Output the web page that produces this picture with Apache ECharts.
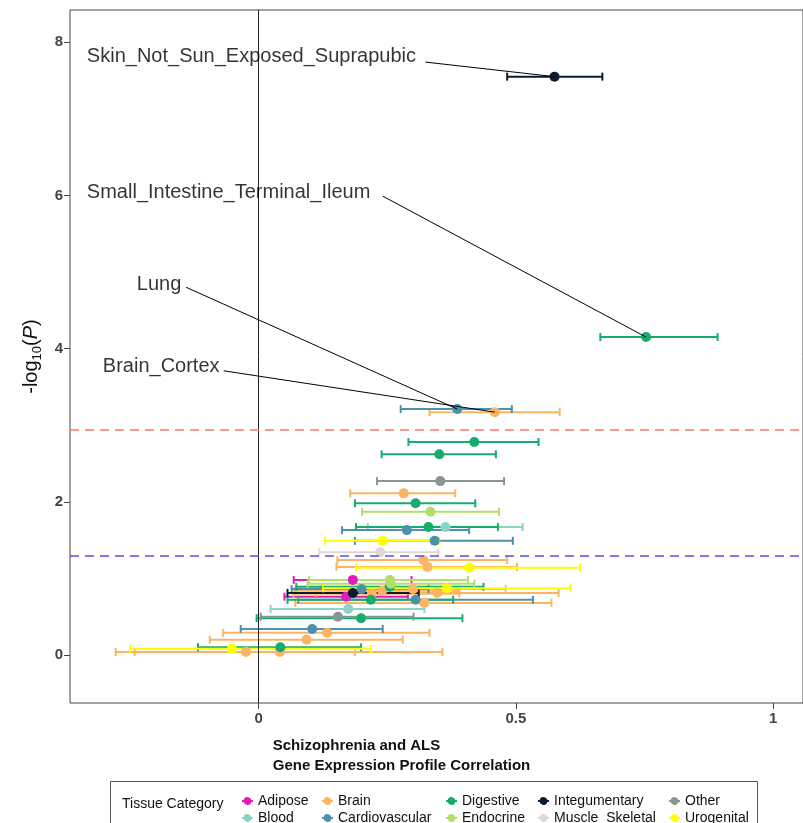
<!DOCTYPE html>
<html>
<head>
<meta charset="utf-8">
<script src="https://cdn.jsdelivr.net/npm/echarts@6/dist/echarts.min.js"></script>
<style>
  html, body { margin: 0; padding: 0; background: #fff; }
  #chart { width: 803px; height: 823px; }
</style>
</head>
<body>
<div id="chart"></div>
<script>
const categories = ['Adipose', 'Blood', 'Brain', 'Cardiovascular', 'Digestive', 'Endocrine', 'Integumentary', 'Muscle_Skeletal', 'Other', 'Urogenital'];
const categoryColors = ['#e01cbf', '#8dd3c7', '#fdb462', '#4d92aa', '#16ac6b', '#b3de69', '#0c1b2e', '#e2d5d6', '#879694', '#ffff00'];

// one entry per tissue
const tissueCategory = [
    'Integumentary', 'Digestive', 'Cardiovascular', 'Brain', 'Digestive', 'Digestive', 'Other', 'Brain',
    'Digestive', 'Endocrine', 'Digestive', 'Blood', 'Cardiovascular', 'Urogenital', 'Cardiovascular', 'Muscle_Skeletal',
    'Brain', 'Brain', 'Urogenital', 'Endocrine', 'Adipose', 'Endocrine', 'Digestive', 'Urogenital',
    'Cardiovascular', 'Brain', 'Brain', 'Integumentary', 'Brain', 'Brain', 'Adipose', 'Digestive',
    'Cardiovascular', 'Brain', 'Blood', 'Other', 'Digestive', 'Cardiovascular', 'Brain', 'Brain',
    'Digestive', 'Urogenital', 'Brain', 'Brain'
];
const correlation = [
    0.575, 0.753, 0.386, 0.459, 0.419, 0.351, 0.353, 0.282,
    0.305, 0.334, 0.330, 0.363, 0.288, 0.241, 0.342, 0.236,
    0.320, 0.328, 0.409, 0.255, 0.183, 0.257, 0.255, 0.366,
    0.200, 0.300, 0.240, 0.183, 0.347, 0.220, 0.170, 0.218,
    0.305, 0.322, 0.174, 0.154, 0.199, 0.104, 0.133, 0.093,
    0.042, -0.052, -0.025, 0.041
];
const negLogP = [
    7.55, 4.15, 3.21, 3.17, 2.78, 2.62, 2.27, 2.11,
    1.98, 1.87, 1.67, 1.67, 1.63, 1.49, 1.49, 1.34,
    1.24, 1.15, 1.14, 0.98, 0.98, 0.93, 0.89, 0.87,
    0.86, 0.86, 0.84, 0.81, 0.81, 0.80, 0.76, 0.72,
    0.72, 0.68, 0.60, 0.50, 0.48, 0.34, 0.29, 0.20,
    0.10, 0.08, 0.04, 0.04
];
const ciLow = [
    0.483, 0.664, 0.276, 0.332, 0.291, 0.239, 0.230, 0.178,
    0.187, 0.201, 0.189, 0.212, 0.162, 0.129, 0.187, 0.118,
    0.153, 0.151, 0.189, 0.098, 0.068, 0.095, 0.073, 0.125,
    0.064, 0.120, 0.070, 0.056, 0.112, 0.068, 0.050, 0.056,
    0.077, 0.071, 0.023, 0.004, -0.004, -0.035, -0.069, -0.095,
    -0.118, -0.250, -0.241, -0.278
];
const ciHigh = [
    0.668, 0.892, 0.492, 0.585, 0.544, 0.461, 0.477, 0.382,
    0.421, 0.467, 0.465, 0.513, 0.409, 0.351, 0.494, 0.349,
    0.483, 0.502, 0.625, 0.407, 0.297, 0.419, 0.437, 0.606,
    0.330, 0.480, 0.390, 0.311, 0.583, 0.390, 0.290, 0.378,
    0.533, 0.569, 0.322, 0.301, 0.396, 0.241, 0.332, 0.280,
    0.199, 0.218, 0.187, 0.357
];

// thresholds
const bonferroniLine = 2.94;
const nominalLine = 1.301;

// labelled tissues: text anchor (data coords), leader start, leader end (the point)
const labelNames = ['Skin_Not_Sun_Exposed_Suprapubic', 'Small_Intestine_Terminal_Ileum', 'Lung', 'Brain_Cortex'];
const labelAt = [[-0.334, 7.81], [-0.334, 6.04], [-0.237, 4.84], [-0.303, 3.76]];
const leaderFrom = [[0.324, 7.74], [0.241, 5.99], [-0.141, 4.80], [-0.068, 3.71]];
const leaderTo = [[0.575, 7.55], [0.753, 4.15], [0.386, 3.21], [0.459, 3.17]];

const xTicks = [0, 0.5, 1];
const yTicks = [0, 2, 4, 6, 8];

const chart = echarts.init(document.getElementById('chart'));
const FONT = 'Liberation Sans, Arial, sans-serif';
const legendIcon = 'path://M-5.5,-1H-3.87A4,4 0 0,1 3.87,-1H5.5V1H3.87A4,4 0 0,1 -3.87,1H-5.5Z';

let series = [];

categories.forEach((cat, ci) => {
    let bars = [];
    tissueCategory.forEach((c, i) => {
        if (c === cat) bars.push([ciLow[i], ciHigh[i], negLogP[i]]);
    });
    series.push({
        type: 'custom',
        name: cat + '_bars',
        z: 2,
        silent: true,
        encode: { x: [0, 1], y: 2 },
        data: bars,
        renderItem: (params, api) => {
            const y = api.value(2);
            const a = api.coord([api.value(0), y]);
            const b = api.coord([api.value(1), y]);
            const h = 4;
            const st = { stroke: categoryColors[ci], lineWidth: 2 };
            return {
                type: 'group',
                children: [
                    { type: 'line', shape: { x1: a[0], y1: a[1], x2: b[0], y2: b[1] }, style: st },
                    { type: 'line', shape: { x1: a[0], y1: a[1] - h, x2: a[0], y2: a[1] + h }, style: st },
                    { type: 'line', shape: { x1: b[0], y1: b[1] - h, x2: b[0], y2: b[1] + h }, style: st }
                ]
            };
        }
    });
});

categories.forEach((cat, ci) => {
    let pts = [];
    tissueCategory.forEach((c, i) => {
        if (c === cat) pts.push([correlation[i], negLogP[i]]);
    });
    series.push({
        type: 'scatter',
        name: cat,
        z: 3,
        symbol: 'circle',
        symbolSize: 10,
        itemStyle: { color: categoryColors[ci], opacity: 1 },
        data: pts
    });
});

// reference lines
series.push({
    type: 'line',
    name: 'refs',
    z: 1,
    data: [],
    silent: true,
    markLine: {
        silent: true,
        symbol: 'none',
        label: { show: false },
        animation: false,
        data: [
            { xAxis: 0, lineStyle: { color: '#222', type: 'solid', width: 1 } },
            { yAxis: bonferroniLine, lineStyle: { color: '#f8766d', type: [9, 6], width: 1.5 } },
            { yAxis: nominalLine, lineStyle: { color: '#5050f5', type: [9, 6], width: 1.5 } }
        ]
    }
});

// leader lines
series.push({
    type: 'lines',
    name: 'leaders',
    coordinateSystem: 'cartesian2d',
    z: 4,
    silent: true,
    lineStyle: { color: '#000', width: 1, opacity: 1 },
    data: leaderFrom.map((f, i) => ({ coords: [f, leaderTo[i]] }))
});

// label text
series.push({
    type: 'scatter',
    name: 'labels',
    z: 5,
    silent: true,
    symbolSize: 0,
    data: labelNames.map((n, i) => ({ name: n, value: labelAt[i] })),
    label: {
        show: true,
        position: 'right',
        distance: 0,
        formatter: (p) => p.name,
        fontFamily: FONT,
        fontSize: 20,
        color: '#000'
    }
});

const legendCols = [
    ['Adipose', 'Blood'],
    ['Brain', 'Cardiovascular'],
    ['Digestive', 'Endocrine'],
    ['Integumentary', 'Muscle_Skeletal'],
    ['Other', 'Urogenital']
];
const legendLeft = [237, 317, 441, 533, 664];

chart.setOption({
    animation: false,
    backgroundColor: '#fff',
    grid: {
        left: 70, top: 10, right: -5, bottom: 120,
        show: true, borderColor: '#444', borderWidth: 1
    },
    xAxis: {
        type: 'value',
        min: -0.3668,
        max: 1.058,
        splitLine: { show: false },
        axisLine: { show: false, onZero: false },
        axisTick: { show: true, customValues: xTicks, length: 6, lineStyle: { color: '#444' } },
        axisLabel: {
            customValues: xTicks,
            formatter: (v) => String(v),
            fontFamily: FONT, fontWeight: 'bold', fontSize: 15, color: '#444', margin: 8
        }
    },
    yAxis: {
        type: 'value',
        min: -0.627,
        max: 8.42,
        splitLine: { show: false },
        axisLine: { show: false, onZero: false },
        axisTick: { show: true, customValues: yTicks, length: 6, lineStyle: { color: '#444' } },
        axisLabel: {
            customValues: yTicks,
            fontFamily: FONT, fontWeight: 'bold', fontSize: 15, color: '#444', margin: 7
        },
        name: '{a|-log}{s|10}{a|(}{i|P}{a|)}',
        nameLocation: 'middle',
        nameGap: 25,
        nameTextStyle: {
            rich: {
                a: { fontFamily: FONT, fontSize: 20, color: '#111', lineHeight: 24 },
                s: { fontFamily: FONT, fontSize: 13, color: '#111', lineHeight: 24, padding: [11, 0, 0, 0] },
                i: { fontFamily: FONT, fontSize: 20, color: '#111', fontStyle: 'italic', lineHeight: 24 }
            }
        }
    },
    legend: legendCols.map((col, i) => ({
        data: col,
        orient: 'vertical',
        left: legendLeft[i],
        top: 789,
        height: 60,
        icon: legendIcon,
        itemWidth: 11,
        itemHeight: 8,
        itemGap: 3,
        selectedMode: false,
        textStyle: { fontFamily: FONT, fontSize: 14, color: '#111' }
    })),
    graphic: [
        {
            type: 'text', left: 'center', top: 736,
            style: {
                text: 'Schizophrenia and ALS\nGene Expression Profile Correlation',
                font: 'bold 15px Liberation Sans', fill: '#111', align: 'center', lineHeight: 20
            }
        },
        {
            type: 'rect',
            shape: { x: 110.5, y: 781.5, width: 647, height: 60 },
            style: { fill: 'none', stroke: '#555', lineWidth: 1 }
        },
        {
            type: 'text', left: 122, top: 797,
            style: { text: 'Tissue Category', font: '14px Liberation Sans', fill: '#111' }
        }
    ],
    series: series
});
</script>
</body>
</html>
